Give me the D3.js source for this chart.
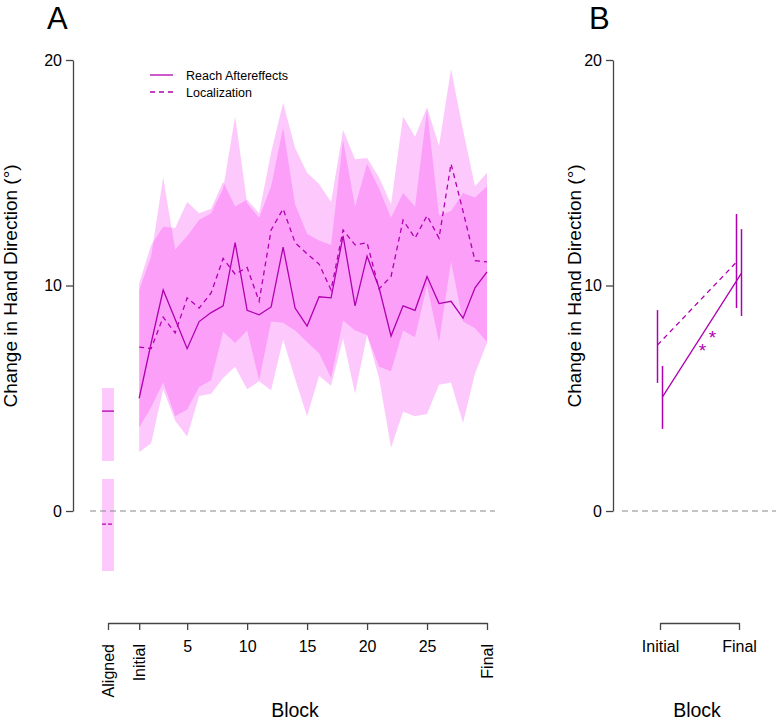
<!DOCTYPE html>
<html>
<head>
<meta charset="utf-8">
<script src="https://cdn.jsdelivr.net/npm/d3@7"></script>
<style>
  html, body { margin: 0; padding: 0; background: #fff; }
  text { font-family: "Liberation Sans", Arial, Helvetica, sans-serif; }
</style>
</head>
<body>
<svg id="chart" width="776" height="723"></svg>
<script>
// ---------- data ----------
const blocks = [1,2,3,4,5,6,7,8,9,10,11,12,13,14,15,16,17,18,19,20,21,22,23,24,25,26,27,28,29,30];
const reachMean = [5.0,7.45,9.8,8.5,7.2,8.4,8.8,9.1,11.9,8.9,8.7,9.05,11.7,9.0,8.2,9.5,9.45,12.2,9.1,11.3,9.9,7.76,9.1,8.9,10.4,9.2,9.3,8.55,9.9,10.6];
const locMean   = [7.27,7.2,8.6,7.9,9.45,9.0,9.67,11.2,10.5,10.8,9.3,12.46,13.4,11.9,11.4,10.95,9.8,12.46,11.8,11.9,9.85,10.4,12.9,12.1,13.1,12.1,15.4,13.3,11.1,11.05];
const reachLo = [2.6,3.0,5.4,4.0,3.3,5.1,5.2,5.9,6.4,5.4,5.75,5.35,7.6,5.85,4.2,6.0,5.55,7.65,5.2,7.8,5.9,2.8,4.4,4.2,4.3,5.6,5.7,3.9,6.1,7.45];
const reachHi = [9.8,11.3,14.8,11.6,12.2,12.9,13.2,14.3,17.5,13.65,13.0,14.4,17.0,13.6,12.3,12.0,11.8,16.45,13.5,15.4,14.3,13.0,14.1,13.5,17.8,13.1,13.3,14.1,13.9,14.4];
const locLo   = [3.7,4.6,5.7,4.2,4.5,5.5,5.8,7.95,7.45,8.0,5.8,8.4,8.35,8.0,7.5,7.0,5.9,8.45,8.0,7.8,6.4,6.2,8.0,7.7,10.0,7.5,11.05,8.4,8.1,7.5];
const locHi   = [10.1,11.8,12.6,12.55,13.7,13.2,13.4,14.6,13.5,13.8,13.2,15.9,18.1,16.1,15.0,14.5,13.7,16.9,15.6,15.65,14.8,13.6,17.5,16.6,17.9,16.2,19.6,16.9,14.4,15.0];

// aligned (baseline) summary
const alignedPos = -1.6;
const alignedReach = {mean: 4.43, lo: 2.22, hi: 5.45};
const alignedLoc   = {mean: -0.58, lo: -2.66, hi: 1.42};

// x tick labels, panel A
const tickPosA = [-1.6, 1, 5, 10, 15, 20, 25, 30];
const tickLabA = ["Aligned", "Initial", "5", "10", "15", "20", "25", "Final"];
const yTicks = [0, 10, 20];

// panel B
const phases = ["Initial", "Final"];
const reachB   = [5.06, 10.55];
const reachBLo = [3.64, 8.65];
const reachBHi = [6.43, 12.5];
const locB   = [7.36, 11.04];
const locBLo = [5.68, 9.0];
const locBHi = [8.91, 13.17];

// ---------- style ----------
const lineCol = "#b000b0";
const bandCol = "rgb(245,20,240)";
const bandOp = 0.23;
const axisCol = "#444";

const svg = d3.select("#chart");

// ---------- Panel A ----------
const xA = d3.scaleLinear().domain([-1.6, 30]).range([108, 487]);
const yA = d3.scaleLinear().domain([0, 20]).range([511, 60]);

const gA = svg.append("g");

// bands
const rows = blocks.map((b, i) => ({b, rm: reachMean[i], lm: locMean[i], rl: reachLo[i], rh: reachHi[i], ll: locLo[i], lh: locHi[i]}));
gA.append("path").datum(rows)
  .attr("d", d3.area().x(d => xA(d.b)).y0(d => yA(d.rl)).y1(d => yA(d.rh)))
  .attr("fill", bandCol).attr("fill-opacity", bandOp);
gA.append("path").datum(rows)
  .attr("d", d3.area().x(d => xA(d.b)).y0(d => yA(d.ll)).y1(d => yA(d.lh)))
  .attr("fill", bandCol).attr("fill-opacity", bandOp);

// aligned rects
const bw = xA(1) - xA(0);
[alignedReach, alignedLoc].forEach(a => {
  gA.append("rect")
    .attr("x", xA(alignedPos) - bw / 2).attr("width", bw)
    .attr("y", yA(a.hi)).attr("height", yA(a.lo) - yA(a.hi))
    .attr("fill", bandCol).attr("fill-opacity", bandOp);
});
gA.append("line")
  .attr("x1", xA(alignedPos) - bw / 2).attr("x2", xA(alignedPos) + bw / 2)
  .attr("y1", yA(alignedReach.mean)).attr("y2", yA(alignedReach.mean))
  .attr("stroke", lineCol).attr("stroke-width", 1.3);
gA.append("line")
  .attr("x1", xA(alignedPos) - bw / 2).attr("x2", xA(alignedPos) + bw / 2)
  .attr("y1", yA(alignedLoc.mean)).attr("y2", yA(alignedLoc.mean))
  .attr("stroke", lineCol).attr("stroke-width", 1.3).attr("stroke-dasharray", "4,2");

// zero line
gA.append("line")
  .attr("x1", 90).attr("x2", 495).attr("y1", yA(0)).attr("y2", yA(0))
  .attr("stroke", "#888").attr("stroke-width", 1).attr("stroke-dasharray", "6,4");

// mean lines
gA.append("path").datum(rows)
  .attr("d", d3.line().x(d => xA(d.b)).y(d => yA(d.rm)))
  .attr("fill", "none").attr("stroke", lineCol).attr("stroke-width", 1.3);
gA.append("path").datum(rows)
  .attr("d", d3.line().x(d => xA(d.b)).y(d => yA(d.lm)))
  .attr("fill", "none").attr("stroke", lineCol).attr("stroke-width", 1.3).attr("stroke-dasharray", "5,4");

// axes
function styleAxis(g) {
  g.select(".domain").attr("stroke", axisCol).attr("stroke-width", 1.3);
  g.selectAll(".tick line").attr("stroke", axisCol).attr("stroke-width", 1.3);
  g.selectAll(".tick text").attr("fill", "#000").style("font-size", "16px")
    .style("font-family", '"Liberation Sans", Arial, sans-serif');
}
const yAxA = gA.append("g").attr("transform", "translate(73,0)")
  .call(d3.axisLeft(yA).tickValues(yTicks).tickSize(7).tickSizeOuter(0).tickPadding(4).tickFormat(d3.format("d")));
styleAxis(yAxA);

const xAxA = gA.append("g").attr("transform", "translate(0,623)")
  .call(d3.axisBottom(xA).tickValues(tickPosA).tickSize(7).tickSizeOuter(0)
    .tickFormat((d, i) => tickLabA[i]));
styleAxis(xAxA);
xAxA.selectAll(".tick text").each(function(d, i) {
  const t = d3.select(this);
  if (isNaN(+tickLabA[i])) {
    t.attr("y", 0).attr("dy", "0.35em").attr("text-anchor", "end")
     .attr("transform", "translate(0,21) rotate(-90)");
  } else {
    t.attr("y", 29).attr("dy", 0);
  }
});

// titles
gA.append("text").attr("x", 47).attr("y", 29).style("font-size", "31px").text("A");
gA.append("text").attr("transform", "translate(17,286) rotate(-90)")
  .attr("text-anchor", "middle").style("font-size", "19px").text("Change in Hand Direction (°)");
gA.append("text").attr("x", 295).attr("y", 717).attr("text-anchor", "middle")
  .style("font-size", "19.5px").text("Block");

// legend
const leg = gA.append("g");
leg.append("line").attr("x1", 150).attr("x2", 173).attr("y1", 75).attr("y2", 75)
  .attr("stroke", lineCol).attr("stroke-width", 1.3);
leg.append("line").attr("x1", 150).attr("x2", 173).attr("y1", 92).attr("y2", 92)
  .attr("stroke", lineCol).attr("stroke-width", 1.3).attr("stroke-dasharray", "5,4");
leg.append("text").attr("x", 186).attr("y", 79.5).style("font-size", "12.5px").text("Reach Aftereffects");
leg.append("text").attr("x", 186).attr("y", 96.5).style("font-size", "12.5px").text("Localization");

// ---------- Panel B ----------
const xB = d3.scalePoint().domain(phases).range([660, 739]);
const yB = d3.scaleLinear().domain([0, 20]).range([511, 60]);
const gB = svg.append("g");
const off = 2.5;

gB.append("line")
  .attr("x1", 622).attr("x2", 776).attr("y1", yB(0)).attr("y2", yB(0))
  .attr("stroke", "#888").attr("stroke-width", 1).attr("stroke-dasharray", "6,4");

// error bars
phases.forEach((p, i) => {
  gB.append("line").attr("x1", xB(p) - off).attr("x2", xB(p) - off)
    .attr("y1", yB(locBLo[i])).attr("y2", yB(locBHi[i]))
    .attr("stroke", lineCol).attr("stroke-width", 1.5);
  gB.append("line").attr("x1", xB(p) + off).attr("x2", xB(p) + off)
    .attr("y1", yB(reachBLo[i])).attr("y2", yB(reachBHi[i]))
    .attr("stroke", lineCol).attr("stroke-width", 1.5);
});
// connecting lines
gB.append("path").datum(phases)
  .attr("d", d3.line().x(p => xB(p) - off).y((p, i) => yB(locB[i])))
  .attr("fill", "none").attr("stroke", lineCol).attr("stroke-width", 1.3).attr("stroke-dasharray", "5,4");
gB.append("path").datum(phases)
  .attr("d", d3.line().x(p => xB(p) + off).y((p, i) => yB(reachB[i])))
  .attr("fill", "none").attr("stroke", lineCol).attr("stroke-width", 1.3);

// significance stars
gB.append("text").attr("x", 702.5).attr("y", 356.5).attr("text-anchor", "middle")
  .attr("fill", lineCol).style("font-size", "19px").text("*");
gB.append("text").attr("x", 712.5).attr("y", 344).attr("text-anchor", "middle")
  .attr("fill", lineCol).style("font-size", "19px").text("*");

const yAxB = gB.append("g").attr("transform", "translate(613,0)")
  .call(d3.axisLeft(yB).tickValues(yTicks).tickSize(7).tickSizeOuter(0).tickPadding(4).tickFormat(d3.format("d")));
styleAxis(yAxB);
const xAxB = gB.append("g").attr("transform", "translate(0,623)")
  .call(d3.axisBottom(xB).tickSize(7).tickSizeOuter(0));
styleAxis(xAxB);
xAxB.selectAll(".tick text").attr("y", 29).attr("dy", 0);

gB.append("text").attr("x", 589).attr("y", 29).style("font-size", "31px").text("B");
gB.append("text").attr("transform", "translate(581,286) rotate(-90)")
  .attr("text-anchor", "middle").style("font-size", "19px").text("Change in Hand Direction (°)");
gB.append("text").attr("x", 697).attr("y", 717).attr("text-anchor", "middle")
  .style("font-size", "19.5px").text("Block");
</script>
</body>
</html>
